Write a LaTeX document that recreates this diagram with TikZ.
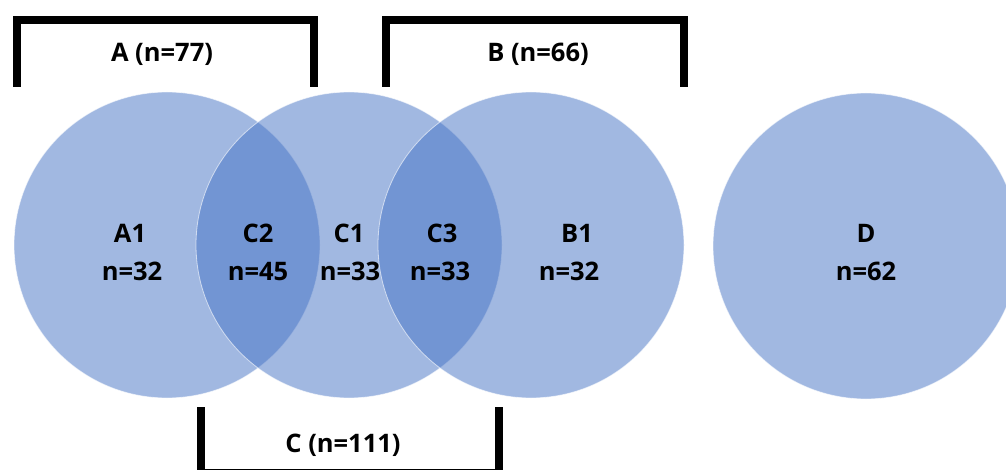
\documentclass[tikz,border=0pt]{standalone}
\usepackage{fontspec}
\setmainfont{Open Sans}
\definecolor{vennblue}{HTML}{4472C4}
\begin{document}
\begin{tikzpicture}[x=1pt,y=-1pt,
  venn/.style={circle, inner sep=0pt, outer sep=0pt, minimum size=306pt,
    fill=vennblue, fill opacity=0.5, draw=white, draw opacity=0.6, line width=0.8pt},
  lbl/.style={anchor=base, inner sep=0pt, font=\bfseries\fontsize{25.5}{30}\selectfont, text=black},
  bracket/.style={draw=black, line width=8pt, line cap=butt, line join=miter}]
\useasboundingbox (0,0) rectangle (1006,470);
\node[venn] (cA) at (167,245) {};
\node[venn] (cC) at (349,245) {};
\node[venn] (cB) at (531,245) {};
\node[venn] (cD) at (866,246) {};
% texts
\node[lbl] (tA1) at (130,243) {A1};
\node[lbl] (nA1) at (132,280) {n=32};
\node[lbl] (tC2) at (258,243) {C2};
\node[lbl] (nC2) at (258,280) {n=45};
\node[lbl] (tC1) at (349,243) {C1};
\node[lbl] (nC1) at (350,280) {n=33};
\node[lbl] (tC3) at (442,243) {C3};
\node[lbl] (nC3) at (440,280) {n=33};
\node[lbl] (tB1) at (577,243) {B1};
\node[lbl] (nB1) at (569,280) {n=32};
\node[lbl] (tD) at (866,243) {D};
\node[lbl] (nD) at (866,280) {n=62};
% brackets
\coordinate (a1) at (16.5,87); \coordinate (a2) at (16.5,20);
\coordinate (a3) at (313.5,20); \coordinate (a4) at (313.5,87);
\draw[bracket] (a1) -- (a2) -- (a3) -- (a4);
\coordinate (b1) at (385.5,87); \coordinate (b2) at (385.5,20);
\coordinate (b3) at (683.5,20); \coordinate (b4) at (683.5,87);
\draw[bracket] (b1) -- (b2) -- (b3) -- (b4);
\coordinate (c1) at (201,407); \coordinate (c2) at (201,473);
\coordinate (c3) at (498.5,473); \coordinate (c4) at (498.5,407);
\draw[bracket] (c1) -- (c2) -- (c3) -- (c4);
\node[lbl] (lA) at (162,62) {A (n=77)};
\node[lbl] (lB) at (538,62) {B (n=66)};
\node[lbl] (lC) at (343,452) {C (n=111)};
\end{tikzpicture}
\end{document}
